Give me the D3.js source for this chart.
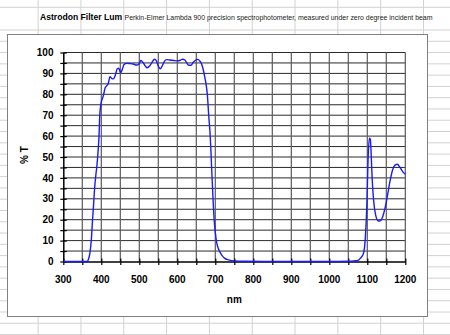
<!DOCTYPE html>
<html>
<head>
<meta charset="utf-8">
<script src="https://d3js.org/d3.v7.min.js"></script>
<style>
  body { margin: 0; background: #ffffff; }
  svg { display: block; }
</style>
</head>
<body>
<script>

// Measured transmission curve (wavelength in nm, transmission in %)
var wavelengths = [300, 350, 362, 366, 370, 374, 377, 380, 382, 386, 388, 390, 392, 394, 396, 398,
  401, 405, 410, 414, 418, 423, 428, 432, 437, 442, 446, 451, 455, 460, 467, 475, 484, 493, 499,
  504, 510, 516, 521, 527, 533, 540, 545, 550, 555, 561, 566, 572, 580, 590, 600, 608, 614, 620,
  625, 630, 636, 642, 647, 654, 659, 664, 668, 672, 676, 679, 683, 686, 688, 691, 694, 697, 700,
  704, 708, 712, 718, 725, 735, 750, 780, 850, 1000, 1050, 1065, 1077, 1083, 1090, 1095, 1099,
  1102, 1105.5, 1108, 1110.5, 1113, 1116.5, 1122, 1129, 1133, 1140.5, 1146.5, 1152.5, 1159.5,
  1166.5, 1173.5, 1179, 1186, 1193, 1200];
var transmission = [0, 0, 0, 1, 4, 11, 20, 28, 34, 42, 45, 49, 54, 60, 70, 74,
  77, 79, 83, 84, 85, 88.4, 87.5, 87.4, 89.2, 92.2, 92.5, 90.3, 91.8, 94.3, 94.8, 94.7, 94.5, 94.0, 94.5,
  96.2, 95.2, 93.5, 92.7, 93.5, 95.2, 96.8, 96.0, 93.5, 92.2, 93.8, 95.8, 96.6, 96.4, 96.2, 96.0, 96.3, 96.8, 96.4,
  95.0, 93.9, 93.9, 95.3, 96.2, 96.7, 96.0, 94.5, 92.0, 88.5, 84.5, 80, 69, 62, 55, 42, 30, 20, 14,
  8.7, 6.2, 4.6, 2.8, 1.5, 0.8, 0.3, 0.1, 0, 0, 0.1, 0.3, 0.7, 1.8, 3.9, 11.9, 27.8,
  48.6, 59, 58.5, 50, 39, 29.4, 22.2, 19.4, 19.4, 21.4, 25.4, 31, 38.2,
  43.8, 46.2, 46.5, 45, 43, 41.7];

// Axis ticks
var xTicks = [300, 400, 500, 600, 700, 800, 900, 1000, 1100, 1200];
var yTicks = [0, 10, 20, 30, 40, 50, 60, 70, 80, 90, 100];

var titleText = "Astrodon Filter Lum";
var subtitleText = "Perkin-Elmer Lambda 900 precision spectrophotometer, measured under zero degree incident beam";

var w = 450,
    h = 335;
var fontFam = "'Liberation Sans', Arial, sans-serif";

var svg = d3.select("body").append("svg")
    .attr("width", w)
    .attr("height", h);

// Spreadsheet background
svg.append("rect")
    .attr("width", w)
    .attr("height", h)
    .attr("fill", "#ffffff");

var colLines = d3.range(0, 11).map(function(i) { return -4.7 + i * 42.82; });
var rowLines = [7.3].concat(d3.range(0, 28).map(function(i) { return 30 + i * 11.28; }));

svg.selectAll(".col")
    .data(colLines)
  .enter().append("line")
    .attr("x1", function(d) { return d; })
    .attr("x2", function(d) { return d; })
    .attr("y1", 0)
    .attr("y2", h)
    .attr("stroke", "#d2d2d2")
    .attr("stroke-width", 1);

svg.selectAll(".row")
    .data(rowLines)
  .enter().append("line")
    .attr("x1", 0)
    .attr("x2", w)
    .attr("y1", function(d) { return d; })
    .attr("y2", function(d) { return d; })
    .attr("stroke", "#d2d2d2")
    .attr("stroke-width", 1);

// Title cells
svg.append("text")
    .attr("x", 40)
    .attr("y", 19.5)
    .style("font-family", fontFam)
    .style("font-size", "8.6px")
    .style("font-weight", "bold")
    .attr("fill", "#000")
    .text(titleText);

svg.append("text")
    .attr("x", 124.5)
    .attr("y", 19.5)
    .style("font-family", fontFam)
    .style("font-size", "6.6px")
    .attr("fill", "#222")
    .attr("textLength", 308)
    .attr("lengthAdjust", "spacingAndGlyphs")
    .text(subtitleText);

// Chart area
svg.append("rect")
    .attr("x", 7.5)
    .attr("y", 34.5)
    .attr("width", 420)
    .attr("height", 282)
    .attr("fill", "#ffffff")
    .attr("stroke", "#808080")
    .attr("stroke-width", 1);

// Scales
var x = d3.scaleLinear().domain([300, 1200]).range([63.3, 405.3]);
var y = d3.scaleLinear().domain([0, 100]).range([261.5, 52.5]);

// Grid lines
var xGrid = d3.range(350, 1201, 50);
var yGrid = d3.range(5, 101, 5);

svg.selectAll(".hgrid")
    .data(yGrid)
  .enter().append("line")
    .attr("x1", x(300))
    .attr("x2", x(1200))
    .attr("y1", function(d) { return y(d); })
    .attr("y2", function(d) { return y(d); })
    .attr("stroke", "#2a2a2a")
    .attr("stroke-width", 1);

svg.selectAll(".vgrid")
    .data(xGrid)
  .enter().append("line")
    .attr("x1", function(d) { return x(d); })
    .attr("x2", function(d) { return x(d); })
    .attr("y1", y(0))
    .attr("y2", y(100))
    .attr("stroke", "#5a5a5a")
    .attr("stroke-width", 1.2);

// Axes with crossing tick marks
var xAxis = d3.axisBottom(x)
    .tickValues(d3.range(300, 1201, 50))
    .tickSize(0)
    .tickFormat("");
var yAxis = d3.axisLeft(y)
    .tickValues(d3.range(0, 101, 5))
    .tickSize(0)
    .tickFormat("");

var gx = svg.append("g")
    .attr("transform", "translate(0," + y(0) + ")")
    .call(xAxis);
gx.select(".domain").attr("stroke", "#000").attr("stroke-width", 1.5);
gx.selectAll(".tick line")
    .attr("y1", -3)
    .attr("y2", 3.5)
    .attr("stroke", "#000")
    .attr("stroke-width", 1.2);

var gy = svg.append("g")
    .attr("transform", "translate(" + x(300) + ",0)")
    .call(yAxis);
gy.select(".domain").attr("stroke", "#000").attr("stroke-width", 1.5);
gy.selectAll(".tick line")
    .attr("x1", -3)
    .attr("x2", 3.5)
    .attr("stroke", "#000")
    .attr("stroke-width", 1.2);

// Tick labels
svg.selectAll(".xlab")
    .data(xTicks)
  .enter().append("text")
    .attr("x", function(d) { return x(d); })
    .attr("y", 283)
    .attr("text-anchor", "middle")
    .style("font-family", fontFam)
    .style("font-size", "10px")
    .style("font-weight", "bold")
    .attr("fill", "#000")
    .text(function(d) { return d; });

svg.selectAll(".ylab")
    .data(yTicks)
  .enter().append("text")
    .attr("x", 53.5)
    .attr("y", function(d) { return y(d) + 3.6; })
    .attr("text-anchor", "end")
    .style("font-family", fontFam)
    .style("font-size", "10px")
    .style("font-weight", "bold")
    .attr("fill", "#000")
    .text(function(d) { return d; });

// Axis titles
svg.append("text")
    .attr("transform", "translate(28,155) rotate(-90)")
    .attr("text-anchor", "middle")
    .style("font-family", fontFam)
    .style("font-size", "10px")
    .style("font-weight", "bold")
    .attr("fill", "#000")
    .text("% T");

svg.append("text")
    .attr("x", x(750))
    .attr("y", 303)
    .attr("text-anchor", "middle")
    .style("font-family", fontFam)
    .style("font-size", "10px")
    .style("font-weight", "bold")
    .attr("fill", "#000")
    .text("nm");

// Transmission curve
var points = wavelengths.map(function(d, i) { return [d, transmission[i]]; });
var line = d3.line()
    .x(function(d) { return x(d[0]); })
    .y(function(d) { return y(d[1]); })
    .curve(d3.curveMonotoneX);

svg.append("path")
    .datum(points)
    .attr("d", line)
    .attr("fill", "none")
    .attr("stroke", "#1a1aff")
    .attr("stroke-width", 1.4)
    .attr("stroke-linejoin", "round");

</script>
</body>
</html>
